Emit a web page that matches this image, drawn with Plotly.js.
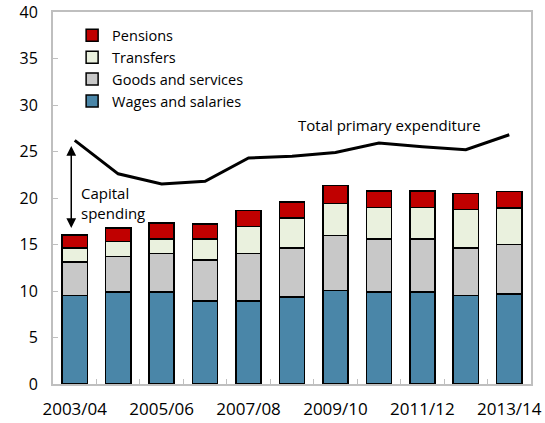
<script src="https://cdn.plot.ly/plotly-3.0.1.min.js"></script>
<style>
  body { margin: 0; background: #fff; }
  #chart { width: 545px; height: 423px; }
</style>
<div id="chart"></div>
<script>
const years = ["2003/04", "2004/05", "2005/06", "2006/07", "2007/08", "2008/09",
               "2009/10", "2010/11", "2011/12", "2012/13", "2013/14"];
const wages = [9.5, 9.9, 9.9, 8.95, 8.95, 9.35, 10.05, 9.9, 9.9, 9.5, 9.7];
const goods = [3.6, 3.8, 4.15, 4.4, 5.1, 5.3, 5.9, 5.7, 5.7, 5.15, 5.3];
const transfers = [1.5, 1.6, 1.55, 2.25, 2.9, 3.2, 3.45, 3.4, 3.4, 4.1, 3.95];
const pensions = [1.4, 1.5, 1.7, 1.6, 1.7, 1.7, 1.95, 1.75, 1.75, 1.75, 1.75];
const totalPrimary = [26.2, 22.6, 21.5, 21.8, 24.3, 24.5, 24.9, 25.9, 25.5, 25.2, 26.8];
const shownTicks = ["2003/04", "2005/06", "2007/08", "2009/10", "2011/12", "2013/14"];

const font = "Open Sans, Noto Sans, sans-serif";

function barTrace(name, y, color) {
  return {
    type: "bar", name: name, x: years, y: y,
    marker: { color: color, line: { color: "#000", width: 1.5 } },
    hoverinfo: "skip"
  };
}

const traces = [
  barTrace("Wages and salaries", wages, "#4a86a8"),
  barTrace("Goods and services", goods, "#c8c8c8"),
  barTrace("Transfers", transfers, "#eaf1de"),
  barTrace("Pensions", pensions, "#c00000"),
  {
    type: "scatter", mode: "lines", name: "Total primary expenditure",
    x: years, y: totalPrimary, showlegend: false,
    line: { color: "#000", width: 3 }
  }
];

const layout = {
  width: 545, height: 423,
  margin: { l: 53, r: 14, t: 12, b: 39 },
  barmode: "stack",
  bargap: 0.42,
  paper_bgcolor: "#fff",
  plot_bgcolor: "#fff",
  font: { family: font, size: 16, color: "#000" },
  showlegend: true,
  legend: {
    traceorder: "reversed",
    x: 0.04, y: 0.98, xanchor: "left", yanchor: "top",
    font: { size: 14.5 }, bgcolor: "rgba(0,0,0,0)",
    itemwidth: 30, tracegroupgap: 0
  },
  xaxis: {
    type: "category",
    tickvals: years,
    ticktext: years.map(y => shownTicks.includes(y) ? y : ""),
    tickangle: 0,
    tickfont: { size: 17 },
    tickson: "boundaries",
    ticks: "inside", ticklen: 5, tickcolor: "#bfbfbf",
    showline: true, linecolor: "#bfbfbf", linewidth: 2, mirror: true,
    showgrid: false, zeroline: false,
    ticklabelstandoff: 9
  },
  yaxis: {
    range: [0, 40], dtick: 5,
    ticks: "inside", ticklen: 5, tickcolor: "#bfbfbf",
    showline: true, linecolor: "#bfbfbf", linewidth: 2, mirror: true,
    showgrid: false, zeroline: false,
    ticklabelstandoff: 10
  },
  annotations: [
    {
      x: 7.25, y: 27.9, xref: "x", yref: "y", showarrow: false,
      text: "Total primary expenditure", font: { size: 15 }
    },
    {
      x: -0.08, y: 25.6, xref: "x", yref: "y",
      ax: -0.08, ay: 16.6, axref: "x", ayref: "y",
      text: "", showarrow: true, arrowside: "end+start",
      arrowhead: 2, startarrowhead: 2, arrowsize: 1.3, startarrowsize: 1.3,
      arrowwidth: 1.5, arrowcolor: "#000"
    },
    {
      x: 0.1, y: 19.5, xref: "x", yref: "y", xanchor: "left", align: "left",
      showarrow: false, text: "Capital<br>spending", font: { size: 15 }
    }
  ]
};

Plotly.newPlot("chart", traces, layout, { displayModeBar: false, staticPlot: true });
</script>
